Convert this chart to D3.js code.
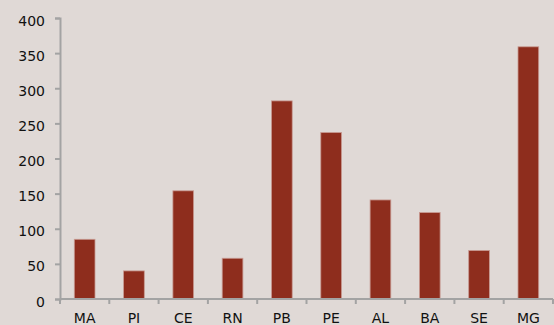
<!DOCTYPE html>
<html>
<head>
<meta charset="utf-8">
<script src="https://cdn.jsdelivr.net/npm/d3@7"></script>
<style>
  html, body { margin: 0; padding: 0; background: #e0d9d6; }
  svg { display: block; }
  .axis text { font-family: "DejaVu Sans", sans-serif; font-size: 14px; fill: #111; }
  .axis path, .axis line { stroke: #a3a3a3; stroke-width: 2; }
</style>
</head>
<body>
<div id="chart"></div>
<script>
// states and values
var states = ["MA", "PI", "CE", "RN", "PB", "PE", "AL", "BA", "SE", "MG"];
var counts = [85, 40, 154, 58, 282, 237, 141, 123, 69, 359];
var yTicks = [0, 50, 100, 150, 200, 250, 300, 350, 400];

var margin = { top: 18, right: 1, bottom: 26, left: 60 },
    width = 554 - margin.left - margin.right,
    height = 325 - margin.top - margin.bottom;

var svg = d3.select("#chart")
    .append("svg")
    .attr("width", 554)
    .attr("height", 325)
    .append("g")
    .attr("transform", "translate(" + margin.left + "," + margin.top + ")");

var x = d3.scaleBand()
    .domain(states)
    .range([0, width])
    .paddingInner(0.58)
    .paddingOuter(0.29);

var y = d3.scaleLinear()
    .domain([0, 400])
    .range([height, 0]);

// bars
svg.append("g")
    .selectAll("rect")
    .data(states)
    .enter()
    .append("rect")
    .attr("x", function (d) { return x(d); })
    .attr("y", function (d, i) { return y(counts[i]); })
    .attr("width", x.bandwidth())
    .attr("height", function (d, i) { return y(0) - y(counts[i]); })
    .attr("fill", "#8e2d1d")
    .attr("stroke", "#c89a92")
    .attr("stroke-width", 0.8);

// y axis
svg.append("g")
    .attr("class", "axis")
    .call(d3.axisLeft(y).tickValues(yTicks).tickSize(5).tickPadding(10))
    .selectAll("text")
    .attr("dy", "0.5em");

// x axis with ticks between the categories
var step = x.step();
var xEdges = d3.range(states.length + 1).map(function (i) { return i * step; });
var xAxis = svg.append("g")
    .attr("class", "axis")
    .attr("transform", "translate(0," + height + ")");
xAxis.append("line")
    .attr("x1", 0).attr("x2", width)
    .attr("y1", 0).attr("y2", 0);
xAxis.selectAll(".edge")
    .data(xEdges)
    .enter()
    .append("line")
    .attr("class", "edge")
    .attr("x1", function (d) { return d; })
    .attr("x2", function (d) { return d; })
    .attr("y1", 0).attr("y2", 5);
xAxis.selectAll(".lab")
    .data(states)
    .enter()
    .append("text")
    .attr("class", "lab")
    .attr("x", function (d) { return x(d) + x.bandwidth() / 2; })
    .attr("y", 24)
    .attr("text-anchor", "middle")
    .text(function (d) { return d; });
</script>
</body>
</html>
